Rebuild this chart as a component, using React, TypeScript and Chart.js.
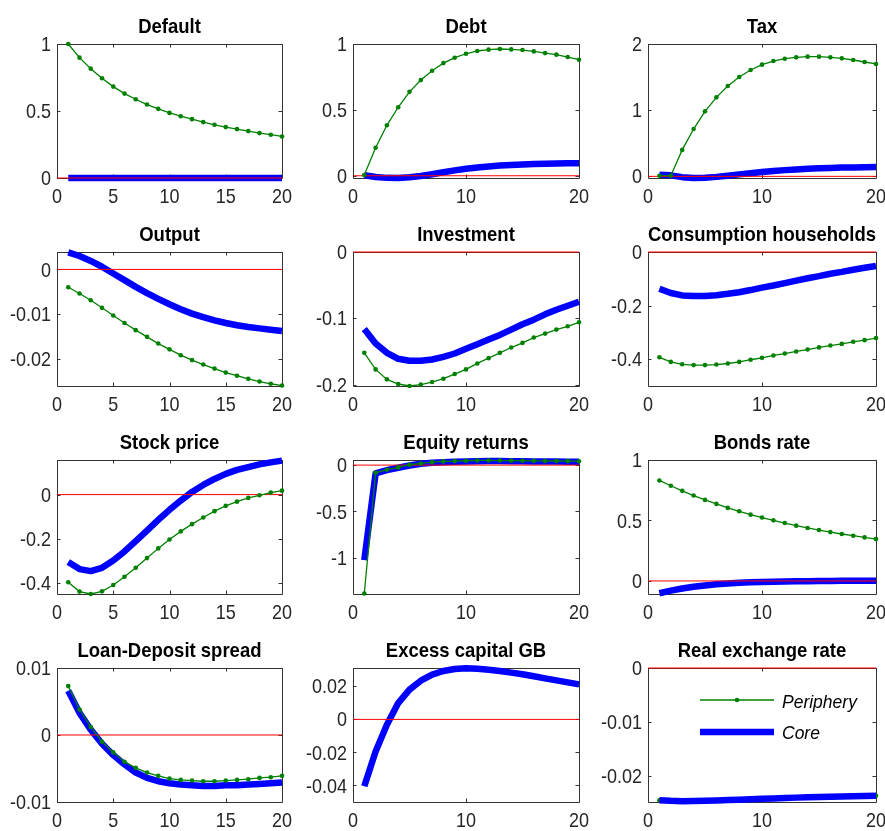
import React, { useEffect, useRef } from "react";
import { Chart, registerables } from "chart.js";

Chart.register(...registerables);

// ---------------- data ----------------
const periods = [1, 2, 3, 4, 5, 6, 7, 8, 9, 10, 11, 12, 13, 14, 15, 16, 17, 18, 19, 20];
const xTicksFine = [0, 5, 10, 15, 20];
const xTicksCoarse = [0, 10, 20];

const defaultPeriphery = [1.0, 0.898, 0.816, 0.744, 0.682, 0.63, 0.588, 0.548, 0.516, 0.486, 0.461, 0.439, 0.417, 0.397, 0.38, 0.365, 0.35, 0.335, 0.323, 0.31];
const defaultCore = [0, 0, 0, 0, 0, 0, 0, 0, 0, 0, 0, 0, 0, 0, 0, 0, 0, 0, 0, 0];
const defaultTicks = [0, 0.5, 1];

const debtPeriphery = [0.005, 0.213, 0.383, 0.52, 0.637, 0.726, 0.797, 0.855, 0.896, 0.926, 0.947, 0.957, 0.962, 0.959, 0.954, 0.944, 0.931, 0.919, 0.901, 0.881];
const debtCore = [0.004, -0.009, -0.016, -0.017, -0.012, -0.002, 0.012, 0.027, 0.041, 0.053, 0.063, 0.071, 0.077, 0.082, 0.086, 0.089, 0.091, 0.093, 0.094, 0.095];
const debtTicks = [0, 0.5, 1];

const taxPeriphery = [0.01, 0.01, 0.4, 0.715, 0.982, 1.194, 1.365, 1.501, 1.607, 1.688, 1.743, 1.778, 1.798, 1.809, 1.809, 1.798, 1.783, 1.758, 1.728, 1.698];
const taxCore = [0.025, 0.015, -0.012, -0.025, -0.022, -0.008, 0.01, 0.03, 0.048, 0.065, 0.08, 0.094, 0.105, 0.114, 0.121, 0.127, 0.132, 0.135, 0.138, 0.141];
const taxTicks = [0, 1, 2];

const outputPeriphery = [-0.004, -0.0054, -0.0069, -0.0086, -0.0103, -0.012, -0.0136, -0.0151, -0.0166, -0.0179, -0.0192, -0.0203, -0.0213, -0.0222, -0.0231, -0.0238, -0.0245, -0.0251, -0.0256, -0.026];
const outputCore = [0.0038, 0.003, 0.0019, 0.0006, -0.0009, -0.0024, -0.0039, -0.0053, -0.0066, -0.0078, -0.0089, -0.0099, -0.0107, -0.0114, -0.012, -0.0125, -0.0129, -0.0132, -0.0135, -0.0138];
const outputTicks = [-0.02, -0.01, 0];

const investmentPeriphery = [-0.152, -0.177, -0.192, -0.199, -0.202, -0.2, -0.196, -0.191, -0.184, -0.177, -0.168, -0.16, -0.152, -0.144, -0.137, -0.129, -0.123, -0.117, -0.112, -0.106];
const investmentCore = [-0.116, -0.138, -0.152, -0.161, -0.164, -0.164, -0.162, -0.158, -0.153, -0.146, -0.139, -0.132, -0.125, -0.117, -0.109, -0.102, -0.094, -0.087, -0.081, -0.075];
const investmentTicks = [-0.2, -0.1, 0];

const consumptionPeriphery = [-0.393, -0.41, -0.419, -0.422, -0.422, -0.42, -0.416, -0.41, -0.402, -0.395, -0.386, -0.379, -0.371, -0.364, -0.356, -0.349, -0.343, -0.335, -0.329, -0.321];
const consumptionCore = [-0.137, -0.153, -0.162, -0.164, -0.164, -0.161, -0.156, -0.15, -0.142, -0.133, -0.125, -0.116, -0.107, -0.098, -0.09, -0.081, -0.074, -0.066, -0.059, -0.052];
const consumptionTicks = [-0.4, -0.2, 0];

const stockPeriphery = [-0.398, -0.44, -0.451, -0.439, -0.41, -0.373, -0.332, -0.288, -0.244, -0.204, -0.167, -0.134, -0.104, -0.075, -0.051, -0.032, -0.015, -0.003, 0.009, 0.018];
const stockCore = [-0.306, -0.338, -0.347, -0.332, -0.299, -0.258, -0.211, -0.163, -0.115, -0.069, -0.027, 0.012, 0.044, 0.071, 0.094, 0.112, 0.125, 0.137, 0.146, 0.154];
const stockTicks = [-0.4, -0.2, 0];

const equityPeriphery = [-1.385, -0.083, -0.05, -0.025, 0.004, 0.018, 0.032, 0.04, 0.043, 0.047, 0.05, 0.05, 0.049, 0.048, 0.047, 0.046, 0.045, 0.044, 0.043, 0.042];
const equityCore = [-1.025, -0.09, -0.054, -0.029, -0.004, 0.014, 0.025, 0.032, 0.036, 0.04, 0.042, 0.043, 0.043, 0.042, 0.041, 0.04, 0.039, 0.038, 0.037, 0.036];
const equityTicks = [-1, -0.5, 0];

const bondsPeriphery = [0.831, 0.787, 0.745, 0.706, 0.67, 0.637, 0.604, 0.576, 0.548, 0.524, 0.501, 0.479, 0.457, 0.438, 0.421, 0.404, 0.388, 0.374, 0.36, 0.346];
const bondsCore = [-0.102, -0.08, -0.062, -0.048, -0.037, -0.028, -0.021, -0.015, -0.011, -0.008, -0.006, -0.004, -0.003, -0.002, -0.001, 0.0, 0.001, 0.001, 0.002, 0.002];
const bondsTicks = [0, 0.5, 1];

const spreadPeriphery = [0.0073, 0.0038, 0.0012, -0.001, -0.0026, -0.004, -0.0049, -0.0056, -0.0061, -0.0065, -0.0067, -0.0068, -0.0069, -0.0069, -0.0068, -0.0067, -0.0066, -0.0064, -0.0063, -0.0061];
const spreadCore = [0.0066, 0.0033, 0.0008, -0.0013, -0.003, -0.0044, -0.0056, -0.0064, -0.0069, -0.0072, -0.0074, -0.0075, -0.0076, -0.0076, -0.0075, -0.0075, -0.0074, -0.0073, -0.0072, -0.0071];
const spreadTicks = [-0.01, 0, 0.01];

const excessCore = [-0.0404, -0.0194, -0.0032, 0.0099, 0.018, 0.0234, 0.0271, 0.0293, 0.0305, 0.0309, 0.0307, 0.0301, 0.0293, 0.0283, 0.0273, 0.0261, 0.0248, 0.0236, 0.0224, 0.0212];
const excessTicks = [-0.04, -0.02, 0, 0.02];

const rerPeriphery = [-0.02448, -0.0246, -0.02466, -0.02465, -0.0246, -0.02453, -0.02446, -0.02438, -0.0243, -0.02422, -0.02414, -0.02407, -0.024, -0.02394, -0.02388, -0.02383, -0.02378, -0.02374, -0.0237, -0.02366];
const rerCore = [-0.02446, -0.02458, -0.02464, -0.02463, -0.02458, -0.02452, -0.02445, -0.02437, -0.02429, -0.02421, -0.02413, -0.02406, -0.02399, -0.02393, -0.02387, -0.02382, -0.02377, -0.02373, -0.02369, -0.02365];
const rerTicks = [-0.02, -0.01, 0];

const legendLabels = ["Periphery", "Core"];

// ---------------- panel config ----------------
type PanelCfg = {
  title: string;
  periphery: number[] | null;
  core: number[];
  yMin: number;
  yMax: number;
  yTicks: number[];
  xTicks: number[];
  coreOnTop?: boolean;
  legend?: boolean;
};

const panels: PanelCfg[] = [
  { title: "Default", periphery: defaultPeriphery, core: defaultCore, yMin: 0, yMax: 1, yTicks: defaultTicks, xTicks: xTicksFine },
  { title: "Debt", periphery: debtPeriphery, core: debtCore, yMin: -0.017, yMax: 1, yTicks: debtTicks, xTicks: xTicksCoarse },
  { title: "Tax", periphery: taxPeriphery, core: taxCore, yMin: -0.025, yMax: 2, yTicks: taxTicks, xTicks: xTicksCoarse },
  { title: "Output", periphery: outputPeriphery, core: outputCore, yMin: -0.0261, yMax: 0.0039, yTicks: outputTicks, xTicks: xTicksFine },
  { title: "Investment", periphery: investmentPeriphery, core: investmentCore, yMin: -0.202, yMax: 0, yTicks: investmentTicks, xTicks: xTicksCoarse },
  { title: "Consumption households", periphery: consumptionPeriphery, core: consumptionCore, yMin: -0.5, yMax: 0, yTicks: consumptionTicks, xTicks: xTicksCoarse },
  { title: "Stock price", periphery: stockPeriphery, core: stockCore, yMin: -0.451, yMax: 0.157, yTicks: stockTicks, xTicks: xTicksFine },
  { title: "Equity returns", periphery: equityPeriphery, core: equityCore, yMin: -1.39, yMax: 0.055, yTicks: equityTicks, xTicks: xTicksCoarse },
  { title: "Bonds rate", periphery: bondsPeriphery, core: bondsCore, yMin: -0.108, yMax: 1, yTicks: bondsTicks, xTicks: xTicksCoarse },
  { title: "Loan-Deposit spread", periphery: spreadPeriphery, core: spreadCore, yMin: -0.01, yMax: 0.01, yTicks: spreadTicks, xTicks: xTicksFine },
  { title: "Excess capital GB", periphery: null, core: excessCore, yMin: -0.05, yMax: 0.0311, yTicks: excessTicks, xTicks: xTicksCoarse },
  { title: "Real exchange rate", periphery: rerPeriphery, core: rerCore, yMin: -0.0248, yMax: 0, yTicks: rerTicks, xTicks: xTicksCoarse, coreOnTop: true, legend: true },
];

const GREEN = "#008000";
const BLUE = "#0000ff";
const RED = "#ff0000";
const FONT = "'Liberation Sans', Arial, Helvetica, sans-serif";
const STRETCH = 1.1; // text in the reference is slightly taller than wide

const fmt = (v: number) => String(parseFloat(Number(v).toFixed(6)));

function drawText(ctx: CanvasRenderingContext2D, text: string, x: number, y: number, align: CanvasTextAlign, font: string, color: string) {
  ctx.save();
  ctx.translate(x, y);
  ctx.scale(1, STRETCH);
  ctx.font = font;
  ctx.fillStyle = color;
  ctx.textAlign = align;
  ctx.textBaseline = "alphabetic";
  ctx.fillText(text, 0, 0);
  ctx.restore();
}

function PanelChart({ cfg, left, top, width, height, padRight }: { cfg: PanelCfg; left: number; top: number; width: number; height: number; padRight: number }) {
  const ref = useRef<HTMLCanvasElement>(null);
  useEffect(() => {
    const canvas = ref.current;
    if (!canvas) return;
    const datasets: any[] = [];
    datasets.push({
      label: "zero",
      data: [{ x: 0, y: 0 }, { x: 20, y: 0 }],
      borderColor: RED,
      borderWidth: 1,
      pointRadius: 0,
      order: 1,
      clip: false,
    });
    datasets.push({
      label: "Core",
      data: periods.map((p, i) => ({ x: p, y: cfg.core[i] })),
      borderColor: BLUE,
      borderWidth: 6.5,
      pointRadius: 0,
      borderCapStyle: "butt",
      borderJoinStyle: "round",
      order: cfg.coreOnTop ? -1 : 2,
      clip: false,
    });
    if (cfg.periphery) {
      datasets.push({
        label: "Periphery",
        data: periods.map((p, i) => ({ x: p, y: (cfg.periphery as number[])[i] })),
        borderColor: GREEN,
        borderWidth: 1.3,
        pointRadius: 2.3,
        pointBackgroundColor: GREEN,
        pointBorderColor: GREEN,
        pointBorderWidth: 0,
        order: 0,
        clip: false,
      });
    }

    const tickFontStr = `18px ${FONT}`;

    const boxPlugin = {
      id: "matlabBox",
      beforeDatasetsDraw(chart: any) {
        const { ctx, chartArea } = chart;
        const { left: l, right: r, top: t, bottom: b } = chartArea;
        ctx.save();
        ctx.strokeStyle = "#333333";
        ctx.lineWidth = 1;
        ctx.beginPath();
        ctx.rect(Math.round(l) + 0.5, Math.round(t) + 0.5, Math.round(r - l), Math.round(b - t));
        ctx.stroke();
        const xs = chart.scales.x;
        const ys = chart.scales.y;
        const tl = 3.5;
        ctx.beginPath();
        cfg.xTicks.forEach((v) => {
          const px = Math.round(xs.getPixelForValue(v)) + 0.5;
          ctx.moveTo(px, b);
          ctx.lineTo(px, b - tl);
          ctx.moveTo(px, t);
          ctx.lineTo(px, t + tl);
        });
        cfg.yTicks.forEach((v) => {
          const py = Math.round(ys.getPixelForValue(v)) + 0.5;
          ctx.moveTo(l, py);
          ctx.lineTo(l + tl, py);
          ctx.moveTo(r, py);
          ctx.lineTo(r - tl, py);
        });
        ctx.stroke();
        ctx.restore();
        // tick labels
        cfg.xTicks.forEach((v) => {
          drawText(ctx, fmt(v), xs.getPixelForValue(v), b + 25, "center", tickFontStr, "#262626");
        });
        const capHalf = (18 * 0.716 * STRETCH) / 2;
        cfg.yTicks.forEach((v) => {
          drawText(ctx, fmt(v), l - 6, ys.getPixelForValue(v) + capHalf, "right", tickFontStr, "#262626");
        });
      },
      afterDraw(chart: any) {
        const { ctx, chartArea } = chart;
        const { left: l, right: r, top: t } = chartArea;
        drawText(ctx, cfg.title, (l + r) / 2, t - 11, "center", `bold 18.5px ${FONT}`, "#000");
        if (cfg.legend) {
          const x0 = l + 52;
          const x1 = l + 126;
          const y0 = t + 32;
          const y1 = t + 64;
          ctx.save();
          ctx.strokeStyle = GREEN;
          ctx.lineWidth = 1.3;
          ctx.beginPath();
          ctx.moveTo(x0, y0);
          ctx.lineTo(x1, y0);
          ctx.stroke();
          ctx.fillStyle = GREEN;
          ctx.beginPath();
          ctx.arc((x0 + x1) / 2, y0, 2.3, 0, Math.PI * 2);
          ctx.fill();
          ctx.strokeStyle = BLUE;
          ctx.lineWidth = 6.5;
          ctx.lineCap = "butt";
          ctx.beginPath();
          ctx.moveTo(x0, y1);
          ctx.lineTo(x1, y1);
          ctx.stroke();
          ctx.restore();
          drawText(ctx, legendLabels[0], x1 + 8, t + 40, "left", `italic 17.5px ${FONT}`, "#000");
          drawText(ctx, legendLabels[1], x1 + 8, t + 71, "left", `italic 17.5px ${FONT}`, "#000");
        }
      },
    };

    const chart = new Chart(canvas, {
      type: "line",
      data: { datasets },
      options: {
        animation: false,
        responsive: false,
        maintainAspectRatio: false,
        events: [],
        layout: { padding: { top: 44, right: padRight, left: 0, bottom: 0 } },
        plugins: { legend: { display: false }, tooltip: { enabled: false }, title: { display: false } },
        elements: { line: { tension: 0 } },
        scales: {
          x: {
            type: "linear",
            min: 0,
            max: 20,
            afterBuildTicks: (s: any) => {
              s.ticks = cfg.xTicks.map((v) => ({ value: v }));
            },
            afterFit: (s: any) => {
              s.height = 29;
            },
            grid: { display: false, drawTicks: false },
            border: { display: false },
            ticks: { display: false },
          },
          y: {
            type: "linear",
            min: cfg.yMin,
            max: cfg.yMax,
            afterBuildTicks: (s: any) => {
              s.ticks = cfg.yTicks.map((v) => ({ value: v }));
            },
            afterFit: (s: any) => {
              s.width = 57;
            },
            grid: { display: false, drawTicks: false },
            border: { display: false },
            ticks: { display: false },
          },
        },
      } as any,
      plugins: [boxPlugin],
    });
    return () => chart.destroy();
  }, [cfg, padRight]);

  return (
    <canvas
      ref={ref}
      width={width}
      height={height}
      style={{ position: "absolute", left, top, width, height }}
    />
  );
}

const colLefts = [0, 296, 591];
const colWidths = [295, 295, 294];
const colPadRight = [13, 12, 9];
const rowTops = [0, 208, 416, 624];

export default function App() {
  return (
    <div style={{ position: "absolute", left: 0, top: 0, width: 885, height: 831, overflow: "hidden", background: "#ffffff" }}>
      {panels.map((cfg, i) => {
        const r = Math.floor(i / 3);
        const c = i % 3;
        return (
          <PanelChart
            key={cfg.title}
            cfg={cfg}
            left={colLefts[c]}
            top={rowTops[r]}
            width={colWidths[c]}
            height={207}
            padRight={colPadRight[c]}
          />
        );
      })}
    </div>
  );
}
